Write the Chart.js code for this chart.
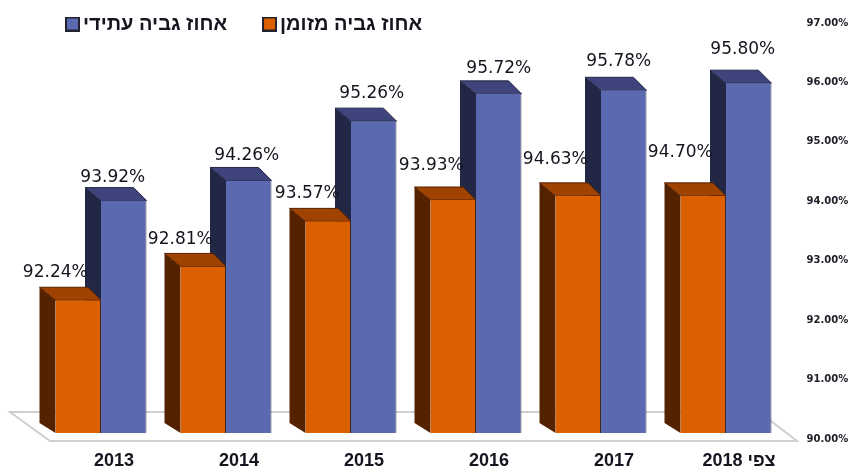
<!DOCTYPE html>
<html>
<head>
<meta charset="utf-8">
<script src="https://cdn.jsdelivr.net/npm/chart.js@4/dist/chart.umd.min.js"></script>
<style>
html,body{margin:0;padding:0;background:#fff;}
canvas{display:block;filter:blur(.4px);}
</style>
</head>
<body>
<canvas id="c" width="850" height="471"></canvas>
<script>
const years = ['2013','2014','2015','2016','2017','2018 צפי'];
const axisTicks = [90,91,92,93,94,95,96,97];

// heights as drawn (the last two orange bars stand lower than their printed label)
const cashHeights   = [92.24,92.81,93.57,93.93,94.00,94.00];
const futureHeights = [93.92,94.26,95.26,95.72,95.78,95.90];
// numbers as printed above the bars
const cashLabels   = ['92.24%','92.81%','93.57%','93.93%','94.63%','94.70%'];
const futureLabels = ['93.92%','94.26%','95.26%','95.72%','95.78%','95.80%'];

const cashName = 'אחוז גביה מזומן';
const futureName = 'אחוז גביה עתידי';

// label offsets from the front top of each bar
const cashShift   = { dx:[-23,-23,-21,-22,-23,-23], lift:[28,27,28,34,36,43] };
const futureShift = { dx:[-11,-2,-2,0,-5,-6], lift:[23,25,28,25,29,34] };

const orange = { front:'#dc5f00', top:'#a14300', side:'#552200' };
const blue   = { front:'#5b69b0', top:'#3f457c', side:'#232746' };

function poly(ctx, pts, fill, stroke) {
  ctx.beginPath();
  pts.forEach((p,i)=> i ? ctx.lineTo(p[0],p[1]) : ctx.moveTo(p[0],p[1]));
  ctx.closePath();
  ctx.fillStyle = fill;
  ctx.fill();
  if (stroke) { ctx.strokeStyle = stroke; ctx.lineWidth = 1; ctx.stroke(); }
}

// legend swatch, a canvas so the text can sit closer than the library's default gap
function swatch(color) {
  const c = document.createElement('canvas');
  c.width = c.height = 15;
  const x = c.getContext('2d');
  x.fillStyle = color;
  x.fillRect(1,1,13,13);
  x.strokeStyle = '#23232f';
  x.lineWidth = 2;
  x.strokeRect(1,1,13,13);
  return c;
}

const depth = { left:16, right:13, up:13, foot:10 };

const bars3d = {
  id:'bars3d',
  afterLayout(chart) {
    // legend floats over the plot, it reserves no space
    const lg = chart.legend;
    lg.left = 30; lg.right = 850;
    lg.top = -28; lg.bottom = 60;
  },
  beforeDatasetsDraw(chart) {
    const ctx = chart.ctx;
    ctx.save();
    // floor
    ctx.beginPath();
    ctx.moveTo(10,412); ctx.lineTo(50,441); ctx.lineTo(797,441); ctx.lineTo(759,412);
    ctx.closePath();
    ctx.fillStyle = '#fff';
    ctx.fill();
    ctx.strokeStyle = '#cfcfcf';
    ctx.lineWidth = 2;
    ctx.stroke();
    // blue first: the orange top sits in front of the blue side
    [[1,blue],[0,orange]].forEach(([idx,col]) => {
      chart.getDatasetMeta(idx).data.forEach(bar => {
        const l = bar.x - bar.width/2, r = bar.x + bar.width/2, y = bar.y, b = bar.base;
        poly(ctx, [[l,y],[l-depth.left,y-depth.up],[l-depth.left,b-depth.foot],[l,b]], col.side);
        poly(ctx, [[l,y],[l-depth.left,y-depth.up],[r-depth.right,y-depth.up],[r,y]], col.top, col.side);
      });
    });
    ctx.restore();
  },
  afterDatasetsDraw(chart) {
    const ctx = chart.ctx;
    ctx.save();
    ctx.font = '17px "DejaVu Sans"';
    ctx.fillStyle = '#15151f';
    ctx.textAlign = 'center';
    ctx.textBaseline = 'middle';
    [[0,cashLabels,cashShift],[1,futureLabels,futureShift]].forEach(([idx,txt,s]) => {
      chart.getDatasetMeta(idx).data.forEach((bar,i) => {
        ctx.fillText(txt[i], bar.x + s.dx[i], bar.y - s.lift[i]);
      });
    });
    ctx.restore();
  }
};

new Chart(document.getElementById('c'), {
  type:'bar',
  data:{
    labels:years,
    datasets:[
      { label:cashName, data:cashHeights, yAxisID:'yBars', base:90,
        backgroundColor:orange.front, borderColor:'#3a2a20', borderWidth:{right:1,bottom:1} },
      { label:futureName, data:futureHeights, yAxisID:'yBars', base:90,
        backgroundColor:blue.front, borderColor:'#44465a', borderWidth:{right:1,bottom:1} }
    ]
  },
  options:{
    responsive:false,
    animation:false,
    categoryPercentage:0.728,
    barPercentage:1,
    layout:{ padding:{ left:38.5, top:22, right:0, bottom:0 } },
    plugins:{
      tooltip:{ enabled:false },
      legend:{
        position:'top',
        align:'start',
        reverse:true,
        maxHeight:1,
        labels:{
          usePointStyle:true, pointStyleWidth:1, padding:42,
          color:'#15151f',
          font:{ family:'"Liberation Sans"', size:20, weight:'bold' },
          generateLabels(chart) {
            return chart.data.datasets.map((ds,i) => ({
              text:ds.label, datasetIndex:i, fontColor:'#15151f', lineWidth:0,
              pointStyle:swatch(ds.backgroundColor)
            }));
          }
        }
      }
    },
    scales:{
      x:{
        grid:{ display:false },
        border:{ display:false },
        ticks:{ color:'#15151f', padding:3, labelOffset:13, maxRotation:0, font:{ family:'"Liberation Sans"', size:18, weight:'bold' } },
        afterFit(s){ s.height = 32; }
      },
      y:{
        position:'right',
        min:90, max:97,
        afterBuildTicks(s){ s.ticks = axisTicks.map(v => ({ value:v })); },
        grid:{ display:false },
        border:{ display:false },
        ticks:{
          color:'#20202a', padding:10,
          font:{ family:'"DejaVu Sans"', size:10, weight:'bold' },
          callback:v => v.toFixed(2)+'%'
        },
        afterFit(s){ s.width = 61.5; }
      },
      // the bars stand on the floor, a few pixels above the axis' 90% mark
      yBars:{ display:false, min:89.9, max:96.915 }
    }
  },
  plugins:[bars3d]
});
</script>
</body>
</html>
